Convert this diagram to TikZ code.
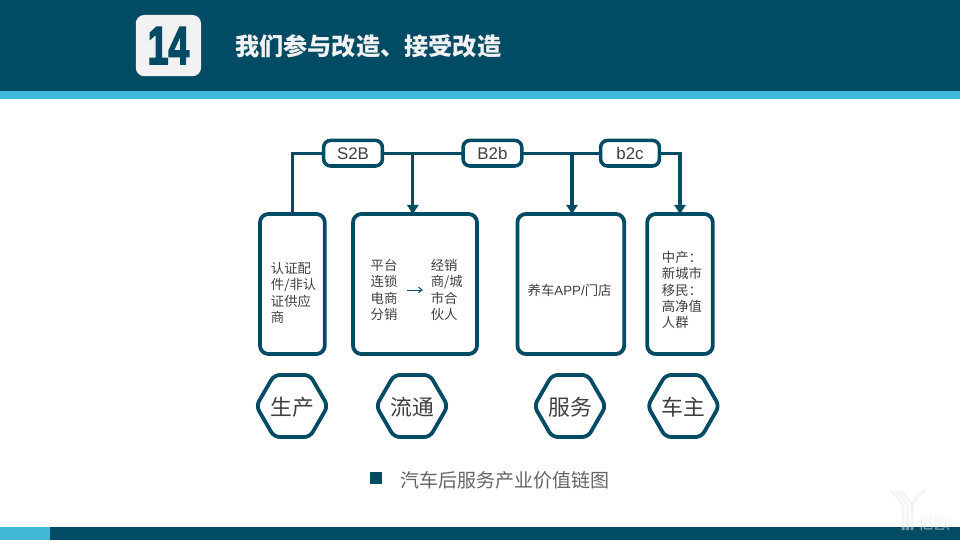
\documentclass[tikz,border=0pt]{standalone}
\usepackage{fontspec}
\usepackage{graphicx}
\setmainfont{Noto Sans CJK SC}
\newfontfamily\latinfont{Liberation Sans}
\newfontfamily\heavyfont[FakeBold=3.5]{Liberation Sans Bold}
\usetikzlibrary{arrows.meta,positioning,calc,shapes.geometric}
\definecolor{bardark}{RGB}{2,75,100}
\definecolor{barlight}{RGB}{62,184,214}
\definecolor{badgebg}{RGB}{242,242,242}
\definecolor{txtdark}{RGB}{64,64,64}
\definecolor{txtgrey}{RGB}{100,100,100}
\definecolor{wmark}{RGB}{235,235,235}
\begin{document}
\begin{tikzpicture}[
      every node/.style={inner sep=0pt, outer sep=0pt},
      bx/.style={rectangle, rounded corners=6pt, draw=bardark, fill=white, line width=2.7pt},
      tag/.style={rectangle, rounded corners=5pt, draw=bardark, fill=white, line width=2.5pt,
                  minimum width=1.47cm, minimum height=0.64cm, text=txtdark,
                  font=\fontsize{12}{12}\latinfont},
      hx/.style={regular polygon, regular polygon sides=6,
                 rounded corners=4pt, draw=bardark, fill=white, line width=2.7pt,
                 minimum size=1.79cm, text=txtdark, text height=15pt, text depth=2pt,
                 font=\fontsize{15.5}{15.5}\selectfont},
      body/.style={align=left, text=txtdark, font=\fontsize{9.5}{11.7}\selectfont},
      ed/.style={bardark, line width=2.4pt},
      edtip/.style={ed, -{Triangle[width=8pt,length=6.5pt]}},
      thintip/.style={bardark, line width=0.7pt, -{Straight Barb[length=2.5pt,width=4pt]}},
      wm/.style={wmark, opacity=0.5, line width=2pt}
    ]
    \useasboundingbox (0,0) rectangle (24,13.5);
    % header and footer
    \fill[bardark] (0,11.225) rectangle (24,13.5);
    \fill[barlight] (0,11.025) rectangle (24,11.225);
    \fill[bardark] (1.25,0) rectangle (24,0.325);
    \fill[barlight] (0,0) rectangle (1.25,0.325);
    \node[rectangle, rounded corners=6pt, fill=badgebg, minimum width=1.63cm, minimum height=1.53cm,
          text=bardark] (badge) at (4.21,12.36)
          {\scalebox{0.7}[1]{\fontsize{38}{38}\heavyfont 14}};
    \node[anchor=west, text=badgebg, font=\fontsize{17.2}{17.2}\bfseries] (title) at (5.88,12.35)
          {我们参与改造、接受改造};
    % watermark
    \foreach \sx/\lx/\rx in {22.58/22.25/22.62, 22.69/22.38/22.88, 22.8/22.5/23.12} {
      \draw[wm] (\sx,0.25) -- (\sx,0.75) .. controls (\sx,1.0) and (\lx+0.1,1.1) .. (\lx,1.25);
    }
    \draw[wm] (22.8,0.75) .. controls (22.8,1.0) and (22.95,1.1) .. (23.12,1.25);
    \node[text=wmark, opacity=0.6, font=\fontsize{11.4}{11.4}\selectfont] (wmtext) at (23.35,0.42) {亿欧};
    % boxes
    \node[bx, minimum width=1.62cm, minimum height=3.5cm] (box1) at (7.31,6.4) {};
    \node[bx, minimum width=3.1cm, minimum height=3.5cm] (box2) at (10.375,6.4) {};
    \node[bx, minimum width=2.67cm, minimum height=3.5cm] (box3) at (14.27,6.4) {};
    \node[bx, minimum width=1.64cm, minimum height=3.5cm] (box4) at (17,6.4) {};
    % box texts
    \node[body] (t1) at (7.34,6.175) {认证配\\件/非认\\证供应\\商};
    \node[body] (t2a) at (9.6,6.25) {平台\\连锁\\电商\\分销};
    \node[body] (t2b) at (11.17,6.25) {经销\\商/城\\市合\\伙人};
    \node[body] (t3) at (14.24,6.25) {养车{\latinfont APP/}门店};
    \node[body] (t4) at (17.05,6.25) {中产：\\新城市\\移民：\\高净值\\人群};
    % tags
    \node[tag] (s2b) at (8.825,9.67) {S2B};
    \node[tag] (b2b) at (12.31,9.67) {B2b};
    \node[tag] (b2c) at (15.75,9.67) {b2c};
    % hexagons
    \node[hx] (hx1) at (7.3,3.35) {生产};
    \node[hx] (hx2) at (10.3,3.35) {流通};
    \node[hx] (hx3) at (14.25,3.35) {服务};
    \node[hx] (hx4) at (17.085,3.35) {车主};
    % caption
    \node[rectangle, fill=bardark, minimum size=0.3cm] (mark) at (9.4,1.54) {};
    \node[anchor=west, text=txtgrey, font=\fontsize{13.5}{13.5}\selectfont] (cap) at (10.02,1.5)
          {汽车后服务产业价值链图};
    % edges
    \coordinate (j2) at (10.32,9.67);
    \coordinate (j3) at (14.3,9.67);
    \draw[ed] (s2b) -| (box1);
    \draw[ed] (s2b) -- (b2b);
    \draw[ed] (b2b) -- (b2c);
    \draw[edtip] (j2) -- (j2 |- box2.north);
    \draw[edtip] (j3) -- (j3 |- box3.north);
    \draw[edtip] (b2c) -| (box4);
    \draw[thintip, shorten <=0.23cm, shorten >=0.2cm] (t2a) -- (t2b);
\end{tikzpicture}
\end{document}
